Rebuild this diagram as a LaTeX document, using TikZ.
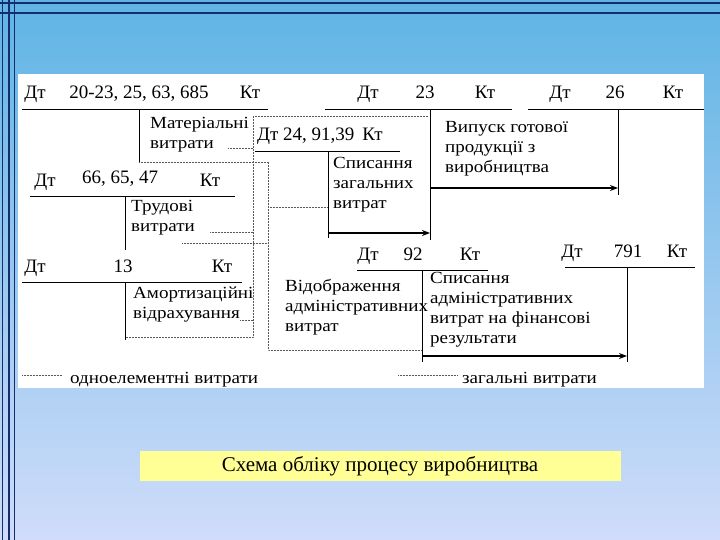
\documentclass[tikz,border=0pt]{standalone}
\usepackage{fontspec}
\setmainfont{Liberation Serif}
\newfontfamily\widefont[FakeStretch=1.12]{Liberation Serif}
\usetikzlibrary{arrows.meta}
\definecolor{bgtop}{RGB}{95,180,228}
\definecolor{bgbot}{RGB}{208,220,250}
\definecolor{frame}{RGB}{20,45,110}
\definecolor{capfill}{RGB}{255,255,150}
\begin{document}
\begin{tikzpicture}[x=1pt,y=-1pt,
  hd/.style={font=\fontsize{19}{19}\selectfont,anchor=base,inner sep=0pt},
  tx/.style={font=\widefont\fontsize{17}{20}\selectfont,anchor=north west,align=left,inner sep=0pt},
  acc/.style={line width=1pt},
  dot/.style={densely dotted,line width=0.5pt,gray!70!black},
  arr/.style={line width=1.3pt,-{Stealth[length=8pt,width=6pt]}}]
\useasboundingbox (0,0) rectangle (720,540);
\shade[top color=bgtop,bottom color=bgbot] (0,0) rectangle (720,540);
\foreach \x in {2.5,9,14.5}{\draw[frame,line width=1.6pt] (\x,0) -- (\x,540);}
\foreach \y in {3,13}{\draw[frame,line width=1.6pt] (0,\y) -- (720,\y);}
\fill[white] (18,74) rectangle (704,388);
% account 1
\node[hd] (a1d) at (35,99) {Дт};
\node[hd] (a1n) at (139,99) {20-23, 25, 63, 685};
\node[hd] (a1k) at (250,99) {Кт};
\draw[acc] (22,110) coordinate (a1l) -- (268,110) coordinate (a1r);
\draw[acc] (139,110) -- (139,162) coordinate (a1b);
\node[tx] (t1) at (150,117) {Матеріальні\\витрати};
% account 2
\node[hd] (a2d) at (45,187) {Дт};
\node[hd] (a2n) at (120,184) {66, 65, 47};
\node[hd] (a2k) at (210,187) {Кт};
\draw[acc] (30,197) -- (235,197);
\draw[acc] (125,197) -- (125,250);
\node[tx] (t2) at (131,200) {Трудові\\витрати};
% account 3
\node[hd] (a3d) at (35,272) {Дт};
\node[hd] (a3n) at (123,272) {13};
\node[hd] (a3k) at (222,272) {Кт};
\draw[acc] (22,282) -- (242,282);
\draw[acc] (125,282) -- (125,340);
\node[tx] (t3) at (133,287) {Амортизаційні\\відрахування};
% dotted links (one-element costs)
\draw[dot] (228,148) -- (253,148);
\draw[dot] (253,116) -- (428,116);
\draw[dot] (253,116) -- (253,337) -- (125,337);
\draw[dot] (210,232) -- (253,232);
\draw[dot] (240,320) -- (253,320);
\draw[dot] (139,162) -- (268,162) -- (268,350) -- (422,350);
\draw[dot] (182,243) -- (268,243);
\draw[dot] (268,207) -- (328,207);
% account 24,91,39
\node[hd,anchor=base west] (a4) at (257,141) {Дт 24, 91,39\hspace{8pt}Кт};
\draw[acc] (255,152) -- (400,152);
\draw[acc] (328,152) coordinate (a4t) -- (328,238);
\node[tx] (t4) at (333,157) {Списання\\загальних\\витрат};
% account 23
\node[hd] (a5d) at (368,99) {Дт};
\node[hd] (a5n) at (425,99) {23};
\node[hd] (a5k) at (485,99) {Кт};
\draw[acc] (325,110) -- (512,110);
\draw[acc] (430,110) -- (430,240);
\coordinate (c23) at (430,233);
\draw[arr] (328,233) coordinate (s4) -- (c23);
\node[tx] (t5) at (445,121) {Випуск готової\\продукції з\\виробництва};
% account 26
\node[hd] (a6d) at (560,99) {Дт};
\node[hd] (a6n) at (615,99) {26};
\node[hd] (a6k) at (673,99) {Кт};
\draw[acc] (528,110) -- (704,110);
\draw[acc] (618,110) -- (618,195);
\coordinate (c26) at (618,188);
\draw[arr] (430,188) coordinate (s5) -- (c26);
% account 92
\node[hd] (a7d) at (368,260) {Дт};
\node[hd] (a7n) at (413,260) {92};
\node[hd] (a7k) at (470,260) {Кт};
\draw[acc] (357,270) -- (488,270);
\draw[acc] (422,270) -- (422,362);
\node[tx] (t7) at (430,272) {Списання\\адміністративних\\витрат на фінансові\\результати};
\node[tx] (t6) at (285,279) {Відображення\\адміністративних\\витрат};
% account 791
\node[hd] (a8d) at (572,257) {Дт};
\node[hd] (a8n) at (628,257) {791};
\node[hd] (a8k) at (677,257) {Кт};
\draw[acc] (565,267) -- (695,267);
\draw[acc] (627,267) -- (627,362);
\coordinate (c791) at (627,356);
\draw[arr] (422,356) coordinate (s7) -- (c791);
% legend
\draw[dot] (22,375) coordinate (l1a) -- (62,375) coordinate (l1b);
\node[tx,anchor=base west] (lg1) at (70,383) {одноелементні витрати};
\draw[dot] (398,375) coordinate (l2a) -- (458,375) coordinate (l2b);
\node[tx,anchor=base west] (lg2) at (462,383) {загальні витрати};
% caption
\node[fill=capfill,minimum width=481pt,minimum height=30pt,inner sep=0pt,
  font=\fontsize{21}{21}\selectfont] (cap) at (380,466) {Схема обліку процесу виробництва};
\end{tikzpicture}
\end{document}
